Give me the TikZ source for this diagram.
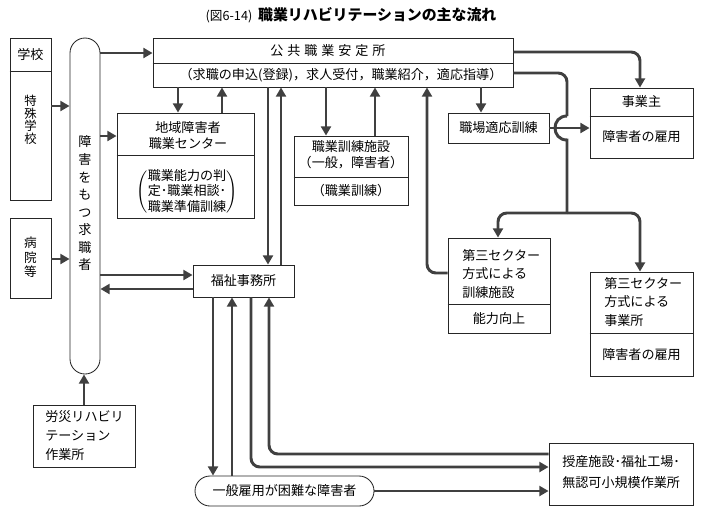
\documentclass[tikz,border=0pt]{standalone}
\usepackage{fontspec}
\setmainfont{Noto Sans CJK JP}
\usetikzlibrary{positioning, fit, arrows.meta}

\begin{document}
\begin{tikzpicture}[x=0.025cm, y=-0.025cm, font=\fontsize{9.3}{12}\selectfont]
    \tikzstyle{box} = [draw=black!85, line width=0.6pt, inner sep=0pt]
    \tikzstyle{txt} = [inner sep=0pt, align=center]
    \tikzstyle{ltxt} = [inner sep=0pt, align=left, anchor=west]
    \tikzstyle{flowline} = [draw=black!75, line width=2.1pt, rounded corners=0.22cm]
    \tikzstyle{flow} = [flowline, -{Triangle[length=6.5pt, width=7pt]}]
    \useasboundingbox (0,0) rectangle (703,515);

    % title
    \node[txt] (title) at (351,15) {{\fontsize{9}{10}\selectfont (図6-14)}\ \ {\bfseries\fontsize{10.6}{12}\selectfont 職業リハビリテーションの主な流れ}};

    % left column
    \node[box, fit={(10,38) (51,200)}] (gakko) {};
    \draw[box] (gakko.west |- 0,71) -- (gakko.east |- 0,71);
    \node[txt] (gakkotxt) at (30.5,55) {学校};
    \node[txt, font=\fontsize{8.8}{8.9}\selectfont] (tokushutxt) at (30.5,120) {特\\殊\\学\\校};
    \node[box, fit={(10,218) (51,298)}] (byoin) {};
    \node[txt, font=\fontsize{9}{10.3}\selectfont] (byointxt) at (30.5,257.5) {病\\院\\等};
    \node[box, rounded corners=0.375cm, fit={(70,38) (100,374)}] (kyushoku) {};
    \node[txt, font=\fontsize{9.3}{12.5}\selectfont] (kyushokutxt) at (85,203.5) {障\\害\\を\\も\\つ\\求\\職\\者};
    \node[box, fit={(33,405) (135,467)}] (rosai) {};
    \node[ltxt, font=\fontsize{9.3}{13.5}\selectfont] (rosaitxt) at (45,436) {労災リハビリ\\テーション\\作業所};

    % public office and centres
    \node[box, fit={(153,38) (513,87)}] (koukyo) {};
    \draw[box] (koukyo.west |- 0,63) -- (koukyo.east |- 0,63);
    \node[txt] (koukyotxt) at (328,51) {公\hspace{.3em}共\hspace{.3em}職\hspace{.3em}業\hspace{.3em}安\hspace{.3em}定\hspace{.3em}所};
    \node[txt] (koukyosub) at (341,75) {（求職の申込(登録)，求人受付，職業紹介，適応指導）};
    \node[box, fit={(117,113) (254,218)}] (chiiki) {};
    \draw[box] (chiiki.west |- 0,155) -- (chiiki.east |- 0,155);
    \node[txt] (chiikitxt) at (188,135.5) {地域障害者\\職業センター};
    \node[txt, font=\fontsize{9.3}{10.3}\selectfont] (chiikisub) at (187,192.5) {$\left(\begin{tabular}{@{}l@{}}職業能力の判\\定･職業相談･\\職業準備訓練\end{tabular}\right)$};
    \node[box, fit={(294,136) (408,205)}] (kunren) {};
    \draw[box] (kunren.west |- 0,177) -- (kunren.east |- 0,177);
    \node[txt, font=\fontsize{9.3}{11.3}\selectfont] (kunrentxt) at (351,155) {職業訓練施設\\（一般，障害者）};
    \node[txt] (kunrensub) at (351,191) {（職業訓練）};
    \node[box, fit={(193,265) (294,297)}] (fukushi) {};
    \node[txt] (fukushitxt) at (fukushi.center) {福祉事務所};

    % right column
    \node[box, fit={(448,113) (549,143)}] (tekio) {};
    \node[txt] (tekiotxt) at (tekio.center) {職場適応訓練};
    \node[box, fit={(590,88) (693,158)}] (jigyonushi) {};
    \draw[box] (jigyonushi.west |- 0,116) -- (jigyonushi.east |- 0,116);
    \node[txt] (jigyonushitxt) at (641.5,102) {事業主};
    \node[txt] (jigyonushisub) at (641.5,137) {障害者の雇用};
    \node[box, fit={(448,238) (550,333)}] (sanseckunren) {};
    \draw[box] (sanseckunren.west |- 0,304) -- (sanseckunren.east |- 0,304);
    \node[ltxt, font=\fontsize{9.3}{13.5}\selectfont] (sanseckunrentxt) at (462,274) {第三セクター\\方式による\\訓練施設};
    \node[txt] (sanseckunrensub) at (499,318.5) {能力向上};
    \node[box, fit={(590,272) (693,376)}] (sansecjigyo) {};
    \draw[box] (sansecjigyo.west |- 0,333) -- (sansecjigyo.east |- 0,333);
    \node[ltxt, font=\fontsize{9.3}{13.5}\selectfont] (sansecjigyotxt) at (604,302) {第三セクター\\方式による\\事業所};
    \node[txt] (sansecjigyosub) at (641.5,354.5) {障害者の雇用};

    % bottom
    \node[box, rounded corners=0.375cm, fit={(195,476) (374,506)}] (ippan) {};
    \node[txt] (ippantxt) at (284.5,491) {一般雇用が困難な障害者};
    \node[box, fit={(549,443) (693,505)}] (jusan) {};
    \node[ltxt, font=\fontsize{9.3}{15.6}\selectfont] (jusantxt) at (562,472) {授産施設･福祉工場･\\無認可小規模作業所};

    % into the job seekers
    \draw[flow] (gakko.east |- 0,106) -- (kyushoku.west |- 0,106);
    \draw[flow] (byoin.east |- 0,259) -- (kyushoku.west |- 0,259);
    \draw[flow] (rosai.north -| 84,0) -- (kyushoku.south -| 84,0);
    \draw[flow] (kyushoku.east |- 0,53) -- (koukyo.west |- 0,53);
    \draw[flow] (kyushoku.east |- 0,136) -- (chiiki.west |- 0,136);
    \draw[flow] (kyushoku.east |- 0,275) -- (fukushi.west |- 0,275);
    \draw[flow] (fukushi.west |- 0,289) -- (kyushoku.east |- 0,289);

    % public office up and down
    \draw[flow] (koukyo.south -| 178,0) -- (chiiki.north -| 178,0);
    \draw[flow] (chiiki.north -| 222,0) -- (koukyo.south -| 222,0);
    \draw[flow] (koukyo.south -| 268,0) -- (fukushi.north -| 268,0);
    \draw[flow] (fukushi.north -| 281,0) -- (koukyo.south -| 281,0);
    \draw[flow] (koukyo.south -| 326,0) -- (kunren.north -| 326,0);
    \draw[flow] (kunren.north -| 375,0) -- (koukyo.south -| 375,0);
    \draw[flow] (koukyo.south -| 481,0) -- (tekio.north -| 481,0);
    \draw[flow] (sanseckunren.west |- 0,273) -| (koukyo.south -| 427,0);

    % to the employers
    \draw[flow] (koukyo.east |- 0,52) -| (jigyonushi.north -| 640,0);
    \draw[flow] (tekio.east) -- (jigyonushi.west |- tekio.east);
    \draw[flowline] (koukyo.east |- 0,73) -| (567,116);
    \draw[flowline, sharp corners] (567,116) .. controls (551,116) and (551,140) .. (567,140) -- (567,213) coordinate (branch);
    \draw[flow] (branch) -| (sanseckunren.north -| 498,0);
    \draw[flow] (branch) -| (sansecjigyo.north -| 640,0);

    % welfare office
    \draw[flow] (fukushi.south -| 213,0) -- (ippan.north -| 213,0);
    \draw[flow] (ippan.north -| 232,0) -- (fukushi.south -| 232,0);
    \draw[flow] (fukushi.south -| 251,0) |- (jusan.west |- 0,467);
    \draw[flow] (jusan.west |- 0,454) -| (fukushi.south -| 269,0);
    \draw[flow] (ippan.east) -- (jusan.west |- ippan.east);
\end{tikzpicture}
\end{document}
